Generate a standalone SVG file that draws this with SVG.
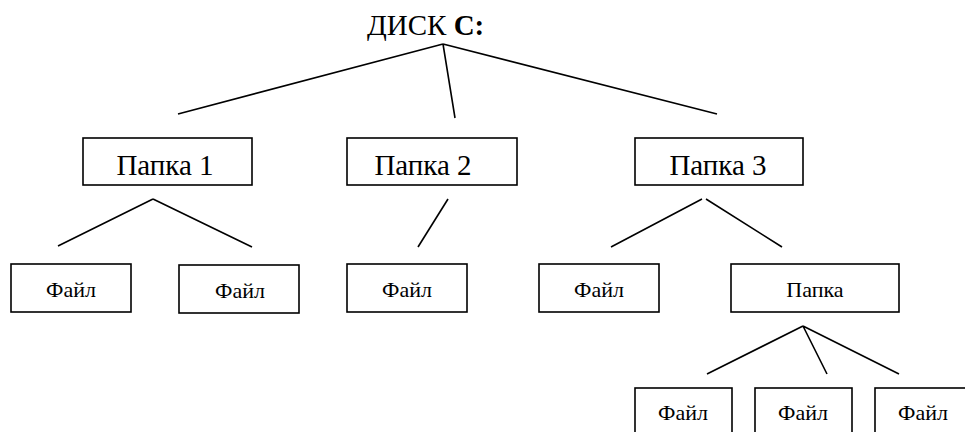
<svg xmlns="http://www.w3.org/2000/svg" width="965" height="432" viewBox="0 0 965 432">
<style>
.box{fill:#fff;stroke:#000;stroke-width:1.6}
.ln{stroke:#000;stroke-width:1.6;fill:none}
.big{font-family:"Liberation Serif","Times New Roman",serif;font-size:29px;fill:#000}
.sm{font-family:"Liberation Serif","Times New Roman",serif;font-size:22px;fill:#000}
</style>
<rect width="965" height="432" fill="#fff"/>
<g id="root"><text class="big" x="367" y="35">ДИСК <tspan font-weight="bold">C:</tspan></text></g>
<g id="connectors">
<path class="ln" d="M443,44 L178,114 M443,44 L455,118 M443,44 L717,114"/>
<path class="ln" d="M153,199 L58,246 M153,199 L252,247"/>
<path class="ln" d="M448,199 L418,247"/>
<path class="ln" d="M702,199 L611,247 M706,199 L782,247"/>
<path class="ln" d="M803,326 L707,374 M803,326 L827,374 M803,326 L899,374"/>
</g>
<g id="folder1"><rect class="box" x="83" y="138" width="169" height="47"/><text class="big" x="165" y="175" text-anchor="middle">Папка 1</text></g>
<g id="folder2"><rect class="box" x="347" y="138" width="170" height="47"/><text class="big" x="423" y="175" text-anchor="middle">Папка 2</text></g>
<g id="folder3"><rect class="box" x="635" y="138" width="168" height="47"/><text class="big" x="718" y="175" text-anchor="middle">Папка 3</text></g>
<g id="file1"><rect class="box" x="11" y="264" width="120" height="48"/><text class="sm" x="71" y="297" text-anchor="middle">Файл</text></g>
<g id="file2"><rect class="box" x="179" y="265" width="120" height="48"/><text class="sm" x="240" y="298" text-anchor="middle">Файл</text></g>
<g id="file3"><rect class="box" x="347" y="264" width="120" height="48"/><text class="sm" x="407" y="297" text-anchor="middle">Файл</text></g>
<g id="file4"><rect class="box" x="539" y="264" width="120" height="48"/><text class="sm" x="599" y="297" text-anchor="middle">Файл</text></g>
<g id="folder4"><rect class="box" x="731" y="264" width="168" height="48"/><text class="sm" x="815" y="297" text-anchor="middle">Папка</text></g>
<g id="file5"><rect class="box" x="635" y="388" width="97" height="50"/><text class="sm" x="683" y="420" text-anchor="middle">Файл</text></g>
<g id="file6"><rect class="box" x="755" y="388" width="97" height="50"/><text class="sm" x="803" y="420" text-anchor="middle">Файл</text></g>
<g id="file7"><rect class="box" x="875" y="388" width="97" height="50"/><text class="sm" x="923" y="420" text-anchor="middle">Файл</text></g>
</svg>
